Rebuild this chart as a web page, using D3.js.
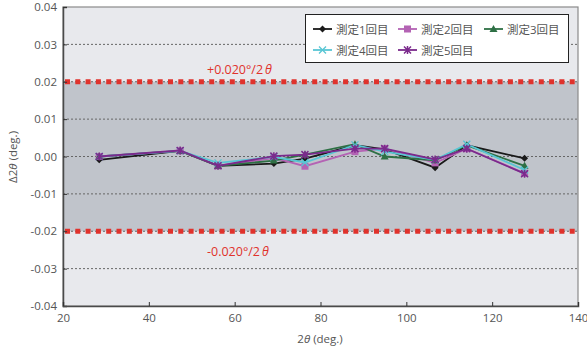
<!DOCTYPE html>
<html>
<head>
<meta charset="utf-8">
<script src="https://cdn.jsdelivr.net/npm/d3@7"></script>
<style>
  body { margin: 0; background: #fff; }
  text { font-family: "Open Sans", "Noto Sans CJK JP", sans-serif; }
</style>
</head>
<body>
<svg id="chart" width="587" height="351"></svg>
<script>
// Si standard peak positions (2θ)
var angles = [28.44, 47.30, 56.12, 69.13, 76.38, 88.03, 94.95, 106.71, 114.09, 127.55];

// Δ2θ for each measurement
var run1 = [-0.0009, 0.0015, -0.0025, -0.0019, -0.0006, 0.0030, 0.0019, -0.0030, 0.0030, -0.0005];
var run2 = [0.0000, 0.0015, -0.0025, -0.0004, -0.0026, 0.0013, 0.0021, -0.0017, 0.0021, -0.0045];
var run3 = [0.0000, 0.0015, -0.0025, -0.0011, 0.0005, 0.0033, 0.0000, -0.0010, 0.0030, -0.0025];
var run4 = [0.0000, 0.0015, -0.0017, -0.0001, -0.0016, 0.0031, 0.0013, -0.0009, 0.0033, -0.0036];
var run5 = [0.0000, 0.0016, -0.0025, 0.0001, 0.0005, 0.0021, 0.0021, -0.0008, 0.0021, -0.0046];

var seriesNames = ["測定1回目", "測定2回目", "測定3回目", "測定4回目", "測定5回目"];
var seriesValues = [run1, run2, run3, run4, run5];
var seriesColors = ["#1a1a1a", "#b463b4", "#2e7045", "#58c6d4", "#7b2a8c"];
var seriesShapes = ["diamond", "square", "triangle", "cross", "asterisk"];

var xTicks = [20, 40, 60, 80, 100, 120, 140];
var yTicks = [0.04, 0.03, 0.02, 0.01, 0.00, -0.01, -0.02, -0.03, -0.04];
var gridValues = [0.03, 0.02, 0.01, 0.00, -0.01, -0.02, -0.03];
var limit = 0.02;

var svg = d3.select("#chart");
var pLeft = 63, pRight = 578, pTop = 7, pBottom = 306;

var x = d3.scaleLinear().domain([20, 140]).range([pLeft, pRight]);
var y = d3.scaleLinear().domain([-0.04, 0.04]).range([pBottom, pTop]);

// plot background
svg.append("rect")
  .attr("x", pLeft).attr("y", pTop)
  .attr("width", pRight - pLeft).attr("height", pBottom - pTop)
  .attr("fill", "#e8e9ed");

// tolerance band
svg.append("rect")
  .attr("x", pLeft).attr("y", y(limit))
  .attr("width", pRight - pLeft).attr("height", y(-limit) - y(limit))
  .attr("fill", "#c0c4cb");

// grid lines
svg.append("g").selectAll("line")
  .data(gridValues)
  .enter().append("line")
  .attr("x1", pLeft).attr("x2", pRight)
  .attr("y1", function (d) { return y(d); })
  .attr("y2", function (d) { return y(d); })
  .attr("stroke", "#666")
  .attr("stroke-width", 1)
  .attr("stroke-dasharray", "2,2");

// red limit lines
svg.append("g").selectAll("line")
  .data([limit, -limit])
  .enter().append("line")
  .attr("x1", pLeft + 2).attr("x2", pRight)
  .attr("y1", function (d) { return y(d); })
  .attr("y2", function (d) { return y(d); })
  .attr("stroke", "#e0322c")
  .attr("stroke-width", 5)
  .attr("stroke-dasharray", "5,5.3");

// limit labels
var limitLabels = [{v: limit, t: "+0.020°/2", dy: -12}, {v: -limit, t: "-0.020°/2", dy: 21}];
limitLabels.forEach(function (l) {
  var t = svg.append("text")
    .attr("x", 207).attr("y", y(l.v) + l.dy + 4)
    .attr("fill", "#e0322c")
    .attr("font-size", 12.5)
    .text(l.t);
  t.append("tspan").attr("font-style", "italic").attr("dx", 2).text("θ");
});

// frame
svg.append("rect")
  .attr("x", pLeft).attr("y", pTop)
  .attr("width", pRight - pLeft).attr("height", pBottom - pTop)
  .attr("fill", "none")
  .attr("stroke", "#8a8a8a")
  .attr("stroke-width", 1.2);

// axes
var yAxis = d3.axisLeft(y).tickValues(yTicks).tickFormat(d3.format(".2f")).tickSize(-4).tickPadding(6);
var gy = svg.append("g").attr("transform", "translate(" + pLeft + ",0)").call(yAxis);
var xAxis = d3.axisBottom(x).tickValues(xTicks).tickFormat(d3.format("d")).tickSize(-4).tickPadding(8);
var gx = svg.append("g").attr("transform", "translate(0," + pBottom + ")").call(xAxis);
[gx, gy].forEach(function (g) {
  g.select(".domain").attr("stroke", "#4a4a4a").attr("stroke-width", 1.5);
  g.selectAll(".tick line").attr("stroke", "#333");
  g.selectAll(".tick text").attr("fill", "#555").attr("font-size", 11.5)
    .attr("font-family", "Open Sans, sans-serif");
});
gy.selectAll(".tick text").text(function (d) { return d3.format(".2f")(d).replace("−", "-"); });

// axis titles
var xt = svg.append("text").attr("x", 320).attr("y", 343).attr("text-anchor", "middle")
  .attr("fill", "#555").attr("font-size", 11.5);
xt.append("tspan").text("2");
xt.append("tspan").attr("font-style", "italic").text("θ");
xt.append("tspan").text(" (deg.)");

var yt = svg.append("text").attr("transform", "translate(17,157) rotate(-90)")
  .attr("text-anchor", "middle").attr("fill", "#555").attr("font-size", 11.5);
yt.append("tspan").text("Δ2");
yt.append("tspan").attr("font-style", "italic").text("θ");
yt.append("tspan").text(" (deg.)");

// markers
function drawMarker(g, shape, color, cx, cy) {
  if (shape === "diamond") {
    g.append("path").attr("d", "M" + cx + "," + (cy - 3.5) + "L" + (cx + 3.5) + "," + cy +
      "L" + cx + "," + (cy + 3.5) + "L" + (cx - 3.5) + "," + cy + "Z").attr("fill", color);
  } else if (shape === "square") {
    g.append("rect").attr("x", cx - 3.5).attr("y", cy - 3.5).attr("width", 7).attr("height", 7).attr("fill", color);
  } else if (shape === "triangle") {
    g.append("path").attr("d", "M" + cx + "," + (cy - 4) + "L" + (cx + 4) + "," + (cy + 3) +
      "L" + (cx - 4) + "," + (cy + 3) + "Z").attr("fill", color);
  } else if (shape === "cross") {
    g.append("path").attr("d", "M" + (cx - 3.5) + "," + (cy - 3.5) + "L" + (cx + 3.5) + "," + (cy + 3.5) +
      "M" + (cx + 3.5) + "," + (cy - 3.5) + "L" + (cx - 3.5) + "," + (cy + 3.5))
      .attr("stroke", color).attr("stroke-width", 1.3).attr("fill", "none");
  } else {
    g.append("path").attr("d", "M" + (cx - 3.5) + "," + (cy - 3.5) + "L" + (cx + 3.5) + "," + (cy + 3.5) +
      "M" + (cx + 3.5) + "," + (cy - 3.5) + "L" + (cx - 3.5) + "," + (cy + 3.5) +
      "M" + cx + "," + (cy - 4) + "L" + cx + "," + (cy + 4))
      .attr("stroke", color).attr("stroke-width", 1.5).attr("fill", "none");
  }
}

// series
var line = d3.line()
  .x(function (d) { return x(d[0]); })
  .y(function (d) { return y(d[1]); });

seriesValues.forEach(function (vals, i) {
  var pts = angles.map(function (a, j) { return [a, vals[j]]; });
  var g = svg.append("g");
  g.append("path").datum(pts)
    .attr("d", line)
    .attr("fill", "none")
    .attr("stroke", seriesColors[i])
    .attr("stroke-width", 1.8);
  pts.forEach(function (p) {
    drawMarker(g, seriesShapes[i], seriesColors[i], x(p[0]), y(p[1]));
  });
});

// legend
var lg = svg.append("g");
lg.append("rect").attr("x", 305.5).attr("y", 14.5).attr("width", 263).attr("height", 48)
  .attr("fill", "#fff").attr("stroke", "#222").attr("stroke-width", 1);
var legendPos = [[313, 29], [398, 29], [484, 29], [313, 50], [398, 50]];
seriesNames.forEach(function (name, i) {
  var lx = legendPos[i][0], ly = legendPos[i][1];
  lg.append("line").attr("x1", lx).attr("x2", lx + 19).attr("y1", ly).attr("y2", ly)
    .attr("stroke", seriesColors[i]).attr("stroke-width", 1.8);
  drawMarker(lg, seriesShapes[i], seriesColors[i], lx + 9.5, ly);
  lg.append("text").attr("x", lx + 23).attr("y", ly + 4.5)
    .attr("fill", "#555").attr("font-size", 11.5)
    .attr("font-family", "Noto Sans CJK JP, sans-serif")
    .text(name);
});
</script>
</body>
</html>
